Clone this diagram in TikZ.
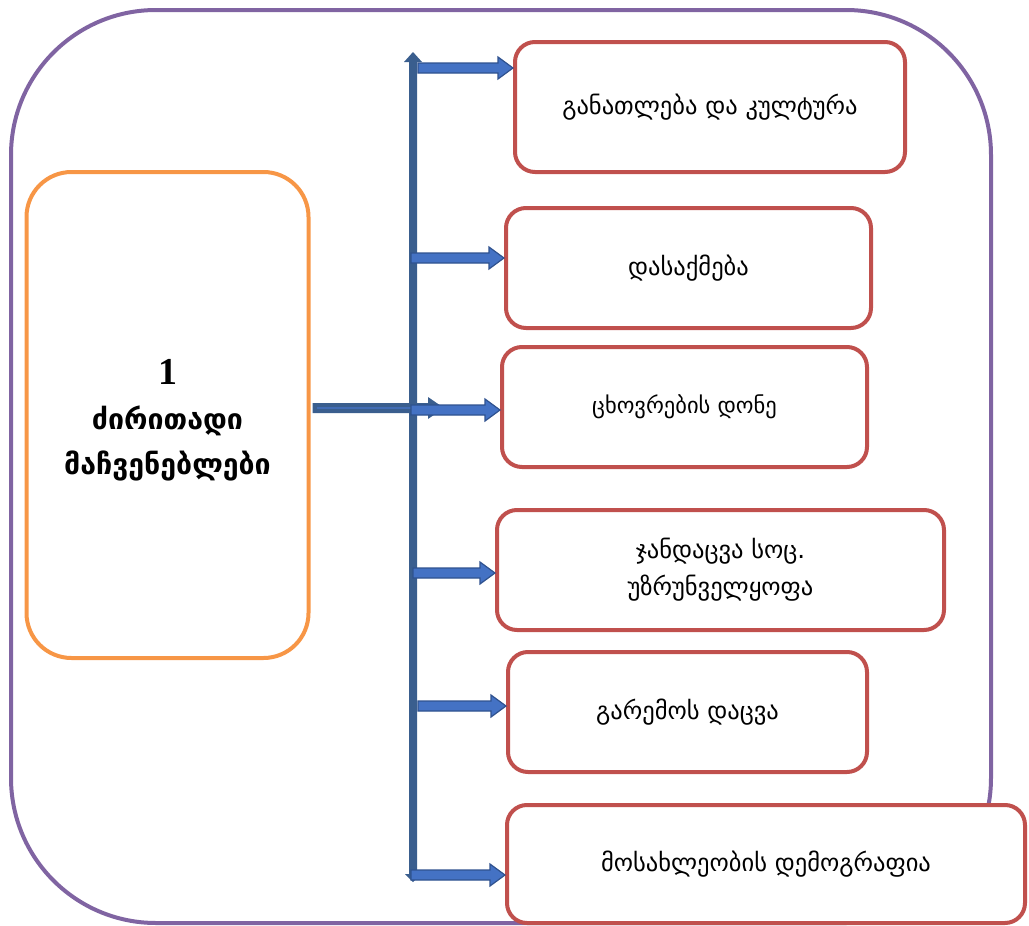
\documentclass[tikz,border=0pt]{standalone}
\usepackage{fontspec}
\setmainfont{DejaVu Sans}
\newfontfamily\numfont{Liberation Serif}
\usetikzlibrary{calc}
\definecolor{purp}{HTML}{8064A2}
\definecolor{orng}{HTML}{F79646}
\definecolor{redb}{HTML}{C0504D}
\definecolor{barc}{HTML}{3A5E8E}
\definecolor{arrf}{HTML}{4472C4}
\definecolor{arrb}{HTML}{2F528F}
\tikzset{
  redbox/.style={draw=redb, line width=4pt, rounded corners=20pt, fill=white, inner sep=0pt, align=center, font=\fontsize{24.5}{37}\selectfont},
  blockarr/.style={draw=arrb, fill=arrf, line width=1.2pt, line join=miter},
}
\newcommand\barrow[2]{%
  \path let \p1=(#1), \p2=(#2) in [blockarr]
    (\x1,\y1+5pt) -- (\x2-15pt,\y1+5pt) -- (\x2-15pt,\y1+11pt) -- (\x2,\y1) --
    (\x2-15pt,\y1-11pt) -- (\x2-15pt,\y1-5pt) -- (\x1,\y1-5pt) -- cycle;}
\begin{document}
\begin{tikzpicture}[x=1pt,y=-1pt]
\useasboundingbox (0,0) rectangle (1029,926);
% outer frame
\draw[purp, line width=4pt, rounded corners=145pt] (11,10) rectangle (991,923);
% main box
\node[draw=orng, line width=4pt, rounded corners=45pt, minimum width=282pt, minimum height=486pt, inner sep=0pt] (main) at (167.5,415) {};
\node[align=center, font=\bfseries\fontsize{28.5}{45}\selectfont] (mtext) at (167.5,420) {{\numfont\fontsize{38}{45}\selectfont 1}\\ძირითადი\\მაჩვენებლები};
% boxes
\node[redbox, minimum width=390pt, minimum height=130pt] (b1) at (710,107) {განათლება და კულტურა};
\node[redbox, minimum width=365pt, minimum height=120pt] (b2) at (688.5,268) {დასაქმება};
\node[redbox, minimum width=365pt, minimum height=120pt, font=\fontsize{22.5}{30}\selectfont] (b3) at (684.5,407) {ცხოვრების დონე};
\node[redbox, minimum width=447pt, minimum height=120pt] (b4) at (720.5,570) {ჯანდაცვა სოც.\\უზრუნველყოფა};
\node[redbox, minimum width=359pt, minimum height=120pt] (b5) at (687.5,712) {გარემოს დაცვა};
\node[redbox, minimum width=518pt, minimum height=118pt] (b6) at (766,864) {მოსახლეობის დემოგრაფია};
% vertical bar (double-headed)
\coordinate (bt) at (413,52);
\coordinate (bb) at (413,882);
\fill[barc] ($(bt)+(-4,10)$) -- ($(bt)+(-9,10)$) -- (bt) -- ($(bt)+(9,10)$) -- ($(bt)+(4,10)$) --
  ($(bb)+(4,-8)$) -- ($(bb)+(8,-8)$) -- (bb) -- ($(bb)+(-8,-8)$) -- ($(bb)+(-4,-8)$) -- cycle;
% main connector
\coordinate (mc) at (main.east |- 0,408);
\fill[barc] ($(mc)+(2,-5)$) -- (428,403) -- (428,397) -- (444,408) -- (428,419) -- (428,413) -- ($(mc)+(2,5)$) -- cycle;
\draw[arrf!70!barc, line width=1.2pt] ($(mc)+(6,0)$) -- (412,408);
% branch arrows
\coordinate (s1) at (418,68);  \barrow{s1}{b1.west |- s1}
\coordinate (s2) at (411,258); \barrow{s2}{b2.west |- s2}
\coordinate (s3) at (411,410); \barrow{s3}{b3.west |- s3}
\coordinate (s4) at (413,573); \barrow{s4}{b4.west |- s4}
\coordinate (s5) at (418,706); \barrow{s5}{b5.west |- s5}
\coordinate (s6) at (411,875); \barrow{s6}{b6.west |- s6}
\end{tikzpicture}
\end{document}
